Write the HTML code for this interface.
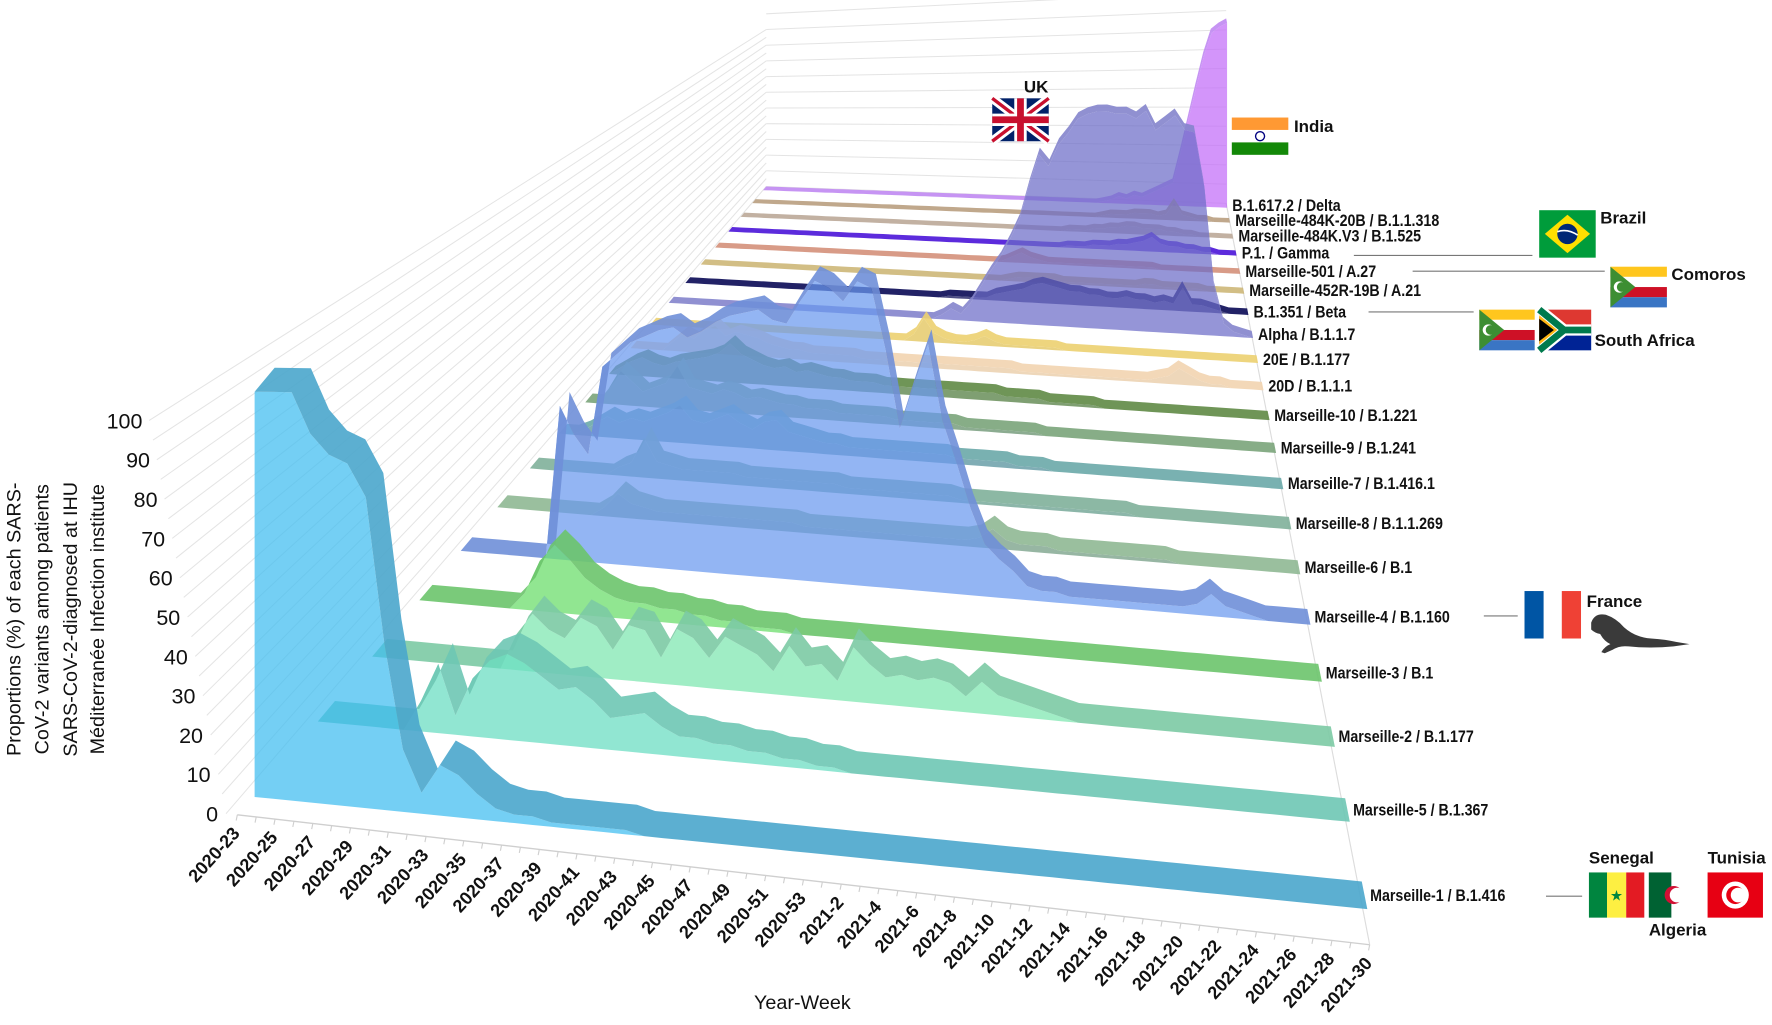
<!DOCTYPE html>
<html><head><meta charset="utf-8"><title>SARS-CoV-2 variants</title>
<style>
html,body{margin:0;padding:0;background:#fff;}
svg{display:block;font-family:"Liberation Sans",Arial,sans-serif;}
.lab{font-weight:bold;font-size:15px;fill:#111;}
.tick{font-weight:bold;font-size:16px;fill:#111;}
.yt{font-size:19px;fill:#111;}
.ttl{font-size:17.5px;fill:#111;}
.flagtxt{font-weight:bold;font-size:15px;fill:#111;}
</style></head>
<body>
<svg id="chart" viewBox="0 0 1568 907" width="1772" height="1025" preserveAspectRatio="none" xmlns="http://www.w3.org/2000/svg">
<g id="grid"></g>
<g id="ribbons"></g>
<g id="axis"></g>
<g id="ylab"></g>
<g id="slabels"></g>

<text class="ttl" x="710" y="893" text-anchor="middle">Year-Week</text>
<g transform="translate(0,548) rotate(-90)" class="ttl" text-anchor="middle">
<text x="0" y="18">Proportions (%) of each SARS-</text>
<text x="0" y="43">CoV-2 variants among patients</text>
<text x="0" y="68">SARS-CoV-2-diagnosed at IHU</text>
<text x="0" y="92">Méditerranée Infection institute</text>
</g>

<g stroke="#777" stroke-width="1">
<line x1="1198" y1="226" x2="1356" y2="226"/>
<line x1="1250" y1="240" x2="1420" y2="240"/>
<line x1="1211" y1="276" x2="1304" y2="276"/>
<line x1="1313" y1="545" x2="1343" y2="545"/>
<line x1="1368" y1="793" x2="1400" y2="793"/>
</g>

<g>
<rect x="878" y="87" width="50" height="38" fill="#012169"/>
<path d="M878,87 L928,125 M928,87 L878,125" stroke="#fff" stroke-width="8"/>
<path d="M878,87 L928,125 M928,87 L878,125" stroke="#c8102e" stroke-width="3"/>
<path d="M903,87 V125 M878,106 H928" stroke="#fff" stroke-width="11"/>
<path d="M903,87 V125 M878,106 H928" stroke="#c8102e" stroke-width="6"/>
</g>
<text class="flagtxt" x="906" y="82">UK</text>
<g>
<rect x="1090" y="104" width="50" height="11" fill="#ff9933"/>
<rect x="1090" y="115" width="50" height="11" fill="#fff"/>
<rect x="1090" y="126" width="50" height="11" fill="#138808"/>
<circle cx="1115" cy="120.5" r="4" fill="none" stroke="#000080" stroke-width="1.2"/>
</g>
<text class="flagtxt" x="1145" y="117">India</text>
<g>
<rect x="1362" y="186" width="50" height="42" fill="#009c3b"/>
<polygon points="1367,207 1387,190 1407,207 1387,224" fill="#ffdf00"/>
<circle cx="1387" cy="207" r="9" fill="#002776"/>
<path d="M1378,205 q9,-3 18,3" stroke="#fff" stroke-width="1.5" fill="none"/>
</g>
<text class="flagtxt" x="1416" y="198">Brazil</text>
<g>
<rect x="1425" y="236" width="50" height="9" fill="#ffc61e"/>
<rect x="1425" y="245" width="50" height="9" fill="#fff"/>
<rect x="1425" y="254" width="50" height="9" fill="#ce1126"/>
<rect x="1425" y="263" width="50" height="9" fill="#3a75c4"/>
<polygon points="1425,236 1447,254 1425,272" fill="#3d8e33"/>
<circle cx="1433" cy="254" r="5" fill="#fff"/><circle cx="1435" cy="254" r="4.3" fill="#3d8e33"/>
</g>
<text class="flagtxt" x="1479" y="248">Comoros</text>
<g>
<rect x="1309" y="274" width="49" height="9" fill="#ffc61e"/>
<rect x="1309" y="283" width="49" height="9" fill="#fff"/>
<rect x="1309" y="292" width="49" height="9" fill="#ce1126"/>
<rect x="1309" y="301" width="49" height="9" fill="#3a75c4"/>
<polygon points="1309,274 1331,292 1309,310" fill="#3d8e33"/>
<circle cx="1317" cy="292" r="5" fill="#fff"/><circle cx="1319" cy="292" r="4.3" fill="#3d8e33"/>
</g>
<g>
<rect x="1362" y="274" width="46" height="18" fill="#de3831"/>
<rect x="1362" y="292" width="46" height="18" fill="#002395"/>
<path d="M1362,274 L1384,292 L1362,310 M1384,292 H1408" stroke="#fff" stroke-width="10" fill="none"/>
<path d="M1362,274 L1384,292 L1362,310 M1384,292 H1408" stroke="#007a4d" stroke-width="6" fill="none"/>
<polygon points="1362,279 1378,292 1362,305" fill="#ffb612"/>
<polygon points="1362,282 1375,292 1362,302" fill="#000"/>
</g>
<text class="flagtxt" x="1411" y="306">South Africa</text>
<g>
<rect x="1349" y="523" width="17" height="42" fill="#0055a4"/>
<rect x="1366" y="523" width="16" height="42" fill="#fff"/>
<rect x="1382" y="523" width="17" height="42" fill="#ef4135"/>
</g>
<text class="flagtxt" x="1404" y="537">France</text>
<path fill="#3a3a3a" d="M1408,551 q3,-9 13,-7 q9,3 16,11 q10,9 24,10 q14,1 22,3 l12,2 l-14,2 q-22,2 -40,0 q-8,-1 -14,3 l-7,3 l-3,-1 q3,-5 8,-7 q-6,-3 -9,-9 q-5,-1 -8,-4 z"/>
<g>
<rect x="1406" y="772" width="16" height="40" fill="#00853f"/>
<rect x="1422" y="772" width="17" height="40" fill="#fdef42"/>
<rect x="1439" y="772" width="16" height="40" fill="#e31b23"/>
<text x="1430.5" y="797" font-size="13" text-anchor="middle" fill="#00853f">★</text>
</g>
<text class="flagtxt" x="1406" y="764">Senegal</text>
<g>
<rect x="1459" y="772" width="20" height="40" fill="#006233"/>
<rect x="1479" y="772" width="20" height="40" fill="#fff"/>
<circle cx="1481" cy="792" r="8" fill="#d21034"/><circle cx="1484" cy="792" r="6.5" fill="#fff"/>
</g>
<text class="flagtxt" x="1459" y="828">Algeria</text>
<g>
<rect x="1511" y="772" width="49" height="40" fill="#e70013"/>
<circle cx="1535.5" cy="792" r="12" fill="#fff"/>
<circle cx="1535.5" cy="792" r="8" fill="#e70013"/><circle cx="1538" cy="792" r="6.5" fill="#fff"/>
</g>
<text class="flagtxt" x="1511" y="764">Tunisia</text>
</svg>

<script>
const weekLabels = ['2020-23','2020-25','2020-27','2020-29','2020-31','2020-33','2020-35','2020-37','2020-39','2020-41','2020-43','2020-45','2020-47','2020-49','2020-51','2020-53','2021-2','2021-4','2021-6','2021-8','2021-10','2021-12','2021-14','2021-16','2021-18','2021-20','2021-22','2021-24','2021-26','2021-28','2021-30'];
const yTicks = [0,10,20,30,40,50,60,70,80,90,100];
const seriesNames = ['Marseille-1 / B.1.416','Marseille-5 / B.1.367','Marseille-2 / B.1.177','Marseille-3 / B.1','Marseille-4 / B.1.160','Marseille-6 / B.1','Marseille-8 / B.1.1.269','Marseille-7 / B.1.416.1','Marseille-9 / B.1.241','Marseille-10 / B.1.221','20D / B.1.1.1','20E / B.1.177','Alpha / B.1.1.7','B.1.351 / Beta','Marseille-452R-19B / A.21','Marseille-501 / A.27','P.1. / Gamma','Marseille-484K.V3 / B.1.525','Marseille-484K-20B / B.1.1.318','B.1.617.2 / Delta'];
const m1 = [100,100,100,90,85,83,75,40,15,5, 12,10,6,3,2,2,1,1,1,1, 1,0,0,0,0,0,0,0,0,0, 0,0,0,0,0,0,0,0,0,0, 0,0,0,0,0,0,0,0,0,0, 0,0,0,0,0,0,0,0,0,0, 0];
const m5 = [0,0,0,0,0,0,8,18,5,15, 20,22,20,17,14,15,12,8,9,10, 7,5,5,4,4,3,3,2,2,1, 1,0,0,0,0,0,0,0,0,0, 0,0,0,0,0,0,0,0,0,0, 0,0,0,0,0,0,0,0,0,0, 0];
const m2 = [0,0,0,0,0,0,0,0,0,10, 16,12,10,16,14,8,15,14,7,15, 13,8,14,12,10,6,13,8,9,5, 14,10,7,8,7,8,7,4,8,5, 4,3,2,1,0,0,0,0,0,0, 0,0,0,0,0,0,0,0,0,0, 0];
const m3 = [0,0,0,0,0,0,0,5,15,20, 16,11,8,6,5,5,4,4,3,3, 2,2,1,1,1,0,0,0,0,0, 0,0,0,0,0,0,0,0,0,0, 0,0,0,0,0,0,0,0,0,0, 0,0,0,0,0,0,0,0,0,0, 0];
const m4 = [0,0,0,0,0,0,0,49,40,34, 62,66,70,72,74,75,72,74,77,79, 80,81,78,77,84,90,88,84,90,88, 70,47,60,72,50,38,25,15,11,8, 4,3,3,2,2,2,2,2,2,2, 2,2,3,6,3,2,1,0,0,0, 0];
const m6 = [0,0,0,0,0,0,0,0,3,8, 5,4,3,3,3,3,3,3,3,3, 3,3,3,2,2,2,2,2,2,2, 2,2,2,2,2,2,3,6,3,2, 2,2,1,1,1,1,1,1,1,1, 1,0,0,0,0,0,0,0,0,0, 0];
const m8 = [0,0,0,0,0,0,0,3,5,14, 6,5,4,4,4,4,4,3,3,3, 3,3,3,3,3,2,2,2,2,2, 2,2,2,2,1,1,1,1,1,1, 1,1,1,1,1,1,1,1,0,0, 0,0,0,0,0,0,0,0,0,0, 0];
const m7 = [0,0,2,5,8,6,8,7,9,11, 14,9,8,10,12,9,7,10,11,7, 6,5,4,4,3,3,3,3,3,3, 3,3,3,2,2,2,2,2,1,1, 1,0,0,0,0,0,0,0,0,0, 0,0,0,0,0,0,0,0,0,0, 0];
const m9 = [0,0,6,14,10,6,8,10,17,9, 8,7,9,8,6,7,6,5,5,4, 4,4,3,3,3,3,3,2,2,2, 2,2,2,1,1,1,1,1,1,1, 0,0,0,0,0,0,0,0,0,0, 0,0,0,0,0,0,0,0,0,0, 0];
const m10 = [0,3,6,8,6,5,7,8,9,10, 12,16,12,10,8,7,8,6,7,6, 5,5,4,4,4,3,3,3,3,3, 3,3,3,3,3,3,2,2,2,2, 1,1,1,1,1,0,0,0,0,0, 0,0,0,0,0,0,0,0,0,0, 0];
const v20d = [0,0,0,0,4,8,6,10,12,8, 10,9,8,6,5,4,4,3,3,3, 3,3,2,2,2,2,2,2,2,2, 2,2,2,2,2,2,2,1,1,1, 1,1,1,1,1,1,1,1,1,1, 2,3,6,4,2,1,1,0,0,0, 0];
const v20e = [0,0,0,0,0,0,0,0,0,0, 0,0,0,0,0,0,0,0,0,0, 0,0,0,0,0,0,3,10,4,2, 1,1,2,4,2,1,1,1,1,1, 1,0,0,0,0,0,0,0,0,0, 0,0,0,0,0,0,0,0,0,0, 0];
const alpha = [0,0,0,0,0,0,0,0,0,0, 0,0,0,0,0,0,0,0,0,0, 0,0,0,0,0,0,0,0,2,5, 3,8,15,22,28,36,45,60,73,68, 77,82,88,90,91,91,90,90,88,91, 83,86,89,83,82,60,20,5,2,1, 0];
const beta = [0,0,0,0,0,0,0,0,0,0, 0,0,0,0,0,0,0,0,0,0, 0,0,0,0,0,0,0,0,1,1, 1,1,1,3,4,5,6,8,9,8, 7,6,6,5,5,4,4,5,4,4, 3,4,3,10,3,3,2,1,0,0, 0];
const a21 = [0,0,0,0,0,0,0,0,0,0, 0,0,0,0,0,0,0,0,0,0, 0,0,0,0,0,0,0,0,0,0, 0,0,0,0,1,2,2,2,2,2, 1,1,1,1,1,1,1,1,1,2, 2,1,1,1,1,1,0,0,0,0, 0];
const a27 = [0,0,0,0,0,0,0,0,0,0, 0,0,0,0,0,0,0,0,0,0, 0,0,0,0,0,0,0,0,0,0, 0,0,0,1,3,5,3,2,1,1, 1,1,1,1,1,1,1,1,1,1, 1,0,0,0,0,0,0,0,0,0, 0];
const gamma = [0,0,0,0,0,0,0,0,0,0, 0,0,0,0,0,0,0,0,0,0, 0,0,0,0,0,0,0,0,0,0, 0,0,0,0,0,0,0,0,0,0, 1,1,1,2,2,2,3,3,4,5, 7,4,3,3,2,2,1,1,0,0, 0];
const b1525 = [0,0,0,0,0,0,0,0,0,0, 0,0,0,0,0,0,0,0,0,0, 0,0,0,0,0,0,0,0,0,0, 0,0,0,0,0,0,0,0,0,0, 1,1,1,2,2,3,3,4,4,3, 3,3,2,2,1,1,0,0,0,0, 0];
const b11318 = [0,0,0,0,0,0,0,0,0,0, 0,0,0,0,0,0,0,0,0,0, 0,0,0,0,0,0,0,0,0,0, 0,0,0,0,0,0,0,0,0,0, 0,0,0,0,1,2,2,2,3,3, 3,2,3,9,3,2,1,1,0,0, 0];
const delta = [0,0,0,0,0,0,0,0,0,0, 0,0,0,0,0,0,0,0,0,0, 0,0,0,0,0,0,0,0,0,0, 0,0,0,0,0,0,0,0,0,0, 0,0,0,0,1,2,4,3,5,4, 6,8,10,12,28,45,62,78,90,93, 95];
const seriesValues = [m1,m5,m2,m3,m4,m6,m8,m7,m9,m10,v20d,v20e,alpha,beta,a21,a27,gamma,b1525,b11318,delta];

const bandColors = ['#4aa6cc','#6ec6b4','#7ccaa4','#6cc46c','#6f8fd8','#8fb893','#80b09a','#6aa8a8','#7aa47a','#5f8a45','#f2d4b0','#ecd070','#8484cc','#0a0a55','#cdb778','#d4907a','#4a14d8','#bba898','#b99e80','#c088f2'];
const areaColors = ['#3fbdf0','#66dcc0','#7be6ae','#66dd66','#6a98ee','#6f9a80','#5f9a88','#4f8e98','#5f8c66','#4d7a3c','#e8c8a0','#e0c050','#6c6cc8','#0a0a55','#c0a868','#c88470','#4a14d8','#a89888','#a88e70','#c26cf8'];
const W = 0.3, T = 60;
function zf(d){ return 1/(1+0.08*d); }
const U19 = 1 - zf(19);
function uf(d){ return (1 - zf(d))/U19; }
function floorPt(t,d){
  const u = uf(d), f = t/T;
  const lx = 243+435*u, ly = 684-519*u, rx = 1205-120*u, ry = 780-600*u;
  return [lx+(rx-lx)*f, ly+(ry-ly)*f];
}
function hScale(t,d){ return zf(d)*(3.5+0.8*t/T); }
function pt(t,d,v,sd){
  const p = floorPt(t,d);
  const s = hScale(t, sd===undefined ? d : sd);
  return [p[0], p[1] - v*s];
}
function axisPt(t){ return [210 + t*1002/T, 721 + t*115/T]; }
const NS = 'http://www.w3.org/2000/svg';
function mk(tag, parent){ const e = document.createElementNS(NS, tag); parent.appendChild(e); return e; }
function ps(a){ return a.map(p=>p[0].toFixed(1)+','+p[1].toFixed(1)).join(' '); }

const grid = document.getElementById('grid');
for (let v=0; v<=100; v+=5){
  const l = mk('line', grid);
  
  
  const b = pt(0,19,v);
  l.setAttribute('x1', 200-0.68*v); l.setAttribute('y1', 720-3.48*v);
  l.setAttribute('x2', b[0]); l.setAttribute('y2', b[1]);
  l.setAttribute('stroke','#e4e4e4'); l.setAttribute('stroke-width','0.9');
}
for (let v=0; v<=115; v+=10){
  const l = mk('line', grid);
  
  
  const a = pt(0,19,v), b = pt(T,19,v);
  l.setAttribute('x1', a[0]); l.setAttribute('y1', a[1]);
  l.setAttribute('x2', b[0]); l.setAttribute('y2', b[1]);
  l.setAttribute('stroke','#e4e4e4'); l.setAttribute('stroke-width','0.9');
}
{
  const l = mk('line', grid);
  
  
  const a = axisPt(T), b = pt(T,19,0);
  l.setAttribute('x1', a[0]); l.setAttribute('y1', a[1]);
  l.setAttribute('x2', b[0]); l.setAttribute('y2', b[1]);
  l.setAttribute('stroke','#dcdcdc'); l.setAttribute('stroke-width','1');
}

const rib = document.getElementById('ribbons');
for (let i = seriesValues.length-1; i >= 0; i--){
  const vals = seriesValues[i];
  const g = mk('g', rib);
  
  
  const front = vals.map((v,t)=>pt(t, i-W, v));
  const frontBase = vals.map((v,t)=>pt(t, i-W, 0)).reverse();
  const back = vals.map((v,t)=>pt(t, i, v, i-W)).reverse();
  const face = mk('polygon', g);
  
  
  face.setAttribute('points', ps(front.concat(frontBase)));
  face.setAttribute('fill', areaColors[i]);
  face.setAttribute('fill-opacity', '0.72');
  const strip = mk('polygon', g);
  
  
  strip.setAttribute('points', ps(front.concat(back)));
  strip.setAttribute('fill', bandColors[i]);
  strip.setAttribute('fill-opacity', '0.9');
}

const sl = document.getElementById('slabels');
seriesNames.forEach((n,i)=>{
  const p = pt(T, i - W/2, 0);
  const g = mk('g', sl);
  
  
  g.setAttribute('transform','translate('+(p[0]+5).toFixed(1)+','+(p[1]+5).toFixed(1)+') scale(0.84,1)');
  const t = mk('text', g);
  t.setAttribute('class','lab');
  t.textContent = n;
});

const ax = document.getElementById('axis');
{
  const a = axisPt(0), b = axisPt(T);
  const l = mk('line', ax);
  
  
  l.setAttribute('x1',a[0]); l.setAttribute('y1',a[1]); l.setAttribute('x2',b[0]); l.setAttribute('y2',b[1]);
  l.setAttribute('stroke','#cfcfcf'); l.setAttribute('stroke-width','1.2');
}
for (let t=0; t<=T; t++){
  const a = axisPt(t);
  const l = mk('line', ax);
  
  
  l.setAttribute('x1',a[0]); l.setAttribute('y1',a[1]); l.setAttribute('x2',a[0]-1); l.setAttribute('y2',a[1]+5);
  l.setAttribute('stroke','#cfcfcf'); l.setAttribute('stroke-width','1');
}
weekLabels.forEach((w,k)=>{
  const a = axisPt(k*2);
  const t = mk('text', ax);
  
  
  t.setAttribute('class','tick');
  t.setAttribute('text-anchor','end');
  t.setAttribute('transform','translate('+(a[0]+3).toFixed(1)+','+(a[1]+17).toFixed(1)+') rotate(-48)');
  t.textContent = w;
});

const yl = document.getElementById('ylab');
yTicks.forEach(v=>{
  const t = mk('text', yl);
  
  
  t.setAttribute('class','yt');
  t.setAttribute('text-anchor','end');
  t.setAttribute('x', (193-0.67*v).toFixed(1));
  t.setAttribute('y', (727-3.48*v).toFixed(1));
  t.textContent = v;
});
</script>
</body></html>
